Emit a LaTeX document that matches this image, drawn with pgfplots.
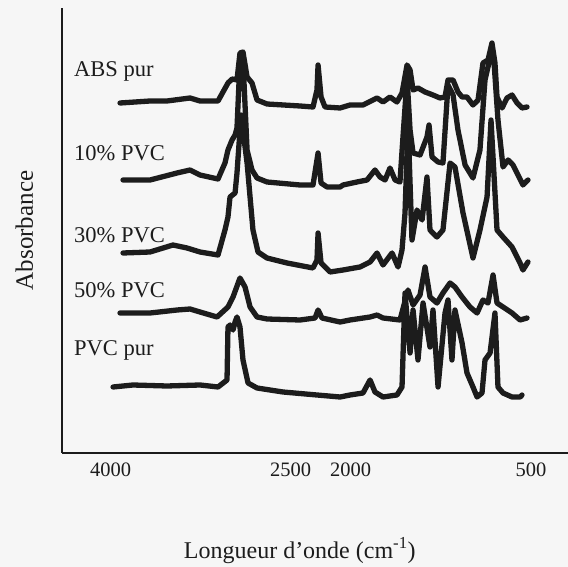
\documentclass[border=0pt]{standalone}
\usepackage{fontspec}
\setmainfont{Liberation Serif}
\usepackage{pgfplots}
\pgfplotsset{compat=1.18}
\definecolor{bgc}{RGB}{246,246,246}
\definecolor{ink}{RGB}{28,28,28}
\begin{document}
\begin{tikzpicture}
\path[use as bounding box, fill=bgc] (-62pt,-114pt) rectangle (506pt,453pt);
\begin{axis}[
 at={(0pt,0pt)}, anchor=south west,
 width=506pt, height=445pt, scale only axis,
 xmin=191, xmax=4404, x dir=reverse,
 ymin=0, ymax=445,
 axis x line*=bottom, axis y line*=left,
 axis line style={-, line width=1.3pt, ink},
 xtick={4000,2500,2000,500}, xticklabels={\textrm{4000},\textrm{2500},\textrm{2000},\textrm{500}},
 ytick=\empty,
 major tick length=0pt,
 xticklabel style={anchor=base, yshift=-24pt, font=\fontsize{20.5}{24}\selectfont, text=ink},
 xlabel={Longueur d’onde (cm\textsuperscript{-1})},
 xlabel style={at={(axis description cs:0.47,-0.236)}, anchor=base, font=\fontsize{24}{28}\selectfont, text=ink},
 ylabel={Absorbance},
 ylabel style={at={(axis description cs:-0.0573,0.5)}, anchor=base, font=\fontsize{25}{30}\selectfont, text=ink},
 clip=false,
 curve/.style={draw=ink, line width=5.3pt, line join=round, line cap=round, mark=none},
]
% ABS pur
\addplot[curve] coordinates {(3921,350)(3671,352)(3530,352)(3338,355)(3255,352)(3105,352)(3022,370)(2988,374)(2947,373)(2922,400)(2897,401)(2863,376)(2822,370)(2780,353)(2697,349)(2422,347)(2314,346)(2281,363)(2272,388)(2247,356)(2214,346)(2089,345)(2006,348)(1898,348)(1781,355)(1731,351)(1673,356)(1615,351)(1573,360)(1531,388)(1506,383)(1481,363)(1440,365)(1381,361)(1315,358)(1257,355)(1215,356)(1190,373)(1148,373)(1107,361)(1073,356)(1032,356)(982,348)(940,353)(899,390)(857,393)(824,410)(799,390)(782,356)(740,345)(699,355)(657,358)(615,350)(574,345)(532,346)};
% 10% PVC
\addplot[curve] coordinates {(3896,273)(3671,273)(3446,280)(3338,283)(3255,278)(3105,274)(3047,290)(3022,303)(2988,313)(2963,318)(2947,325)(2922,393)(2897,393)(2863,303)(2822,283)(2780,275)(2697,271)(2422,268)(2314,268)(2272,300)(2247,270)(2197,266)(2089,266)(2064,268)(1948,271)(1864,273)(1798,283)(1756,276)(1714,273)(1673,285)(1631,273)(1590,271)(1565,316)(1531,375)(1506,323)(1481,300)(1423,298)(1365,316)(1348,328)(1323,296)(1273,291)(1232,290)(1190,368)(1148,358)(1107,323)(1048,288)(982,275)(924,303)(882,373)(840,395)(807,391)(774,333)(732,286)(690,293)(649,288)(607,278)(566,268)(524,273)};
% 30% PVC
\addplot[curve] coordinates {(3896,200)(3671,201)(3480,208)(3363,205)(3255,201)(3105,198)(3047,223)(3022,236)(3005,256)(2963,260)(2947,280)(2913,338)(2863,290)(2814,223)(2772,201)(2697,195)(2530,190)(2314,185)(2281,193)(2272,220)(2247,190)(2172,181)(2064,183)(1923,186)(1839,191)(1781,200)(1731,188)(1656,200)(1606,186)(1573,203)(1548,240)(1523,330)(1490,213)(1448,243)(1406,233)(1365,276)(1340,223)(1282,216)(1232,223)(1173,290)(1132,286)(1065,240)(982,195)(924,223)(865,256)(832,333)(782,223)(732,216)(657,206)(590,190)(566,183)(524,191)};
% 50% PVC
\addplot[curve] coordinates {(3921,140)(3671,140)(3446,143)(3338,144)(3255,141)(3113,136)(3022,146)(2980,156)(2922,175)(2880,166)(2838,146)(2780,136)(2697,134)(2422,133)(2297,135)(2272,143)(2239,135)(2089,131)(2006,133)(1839,136)(1781,138)(1731,135)(1590,133)(1523,163)(1481,148)(1423,158)(1381,186)(1340,156)(1282,150)(1232,160)(1173,170)(1132,166)(1073,156)(1007,146)(948,140)(899,153)(857,150)(815,178)(782,150)(732,146)(657,140)(590,133)(532,135)};
% PVC pur
\addplot[curve] coordinates {(3979,66)(3813,68)(3530,67)(3255,68)(3105,66)(3030,73)(3022,126)(3005,128)(2980,123)(2963,131)(2947,136)(2922,126)(2897,93)(2855,70)(2780,65)(2564,61)(2281,58)(2089,56)(2006,58)(1898,60)(1839,73)(1798,61)(1731,56)(1615,58)(1573,66)(1548,160)(1506,100)(1481,143)(1440,93)(1398,150)(1340,106)(1315,143)(1273,66)(1215,140)(1190,153)(1157,93)(1132,143)(1073,110)(1032,80)(982,66)(948,56)(907,60)(882,93)(840,100)(799,140)(774,66)(732,60)(657,56)(590,56)(574,58)};
\begin{scope}[every node/.style={anchor=base west, inner sep=0pt, font=\fontsize{22.5}{27}\selectfont, text=ink}]
\node at (axis cs:4304,376) {ABS pur};
\node at (axis cs:4304,292) {10\% PVC};
\node at (axis cs:4304,210) {30\% PVC};
\node at (axis cs:4304,155) {50\% PVC};
\node at (axis cs:4304,97) {PVC pur};
\end{scope}
\end{axis}
\end{tikzpicture}
\end{document}
